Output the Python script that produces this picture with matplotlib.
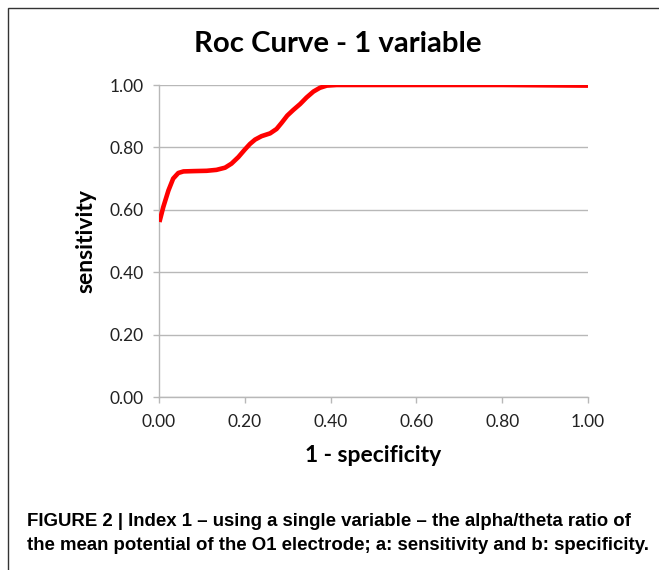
import matplotlib
matplotlib.use("Agg")
import matplotlib.pyplot as plt
from matplotlib.patches import Rectangle

# ROC curve points
fpr = [0.001, 0.010, 0.022, 0.033, 0.045, 0.057, 0.080, 0.111, 0.134, 0.154,
       0.169, 0.185, 0.200, 0.212, 0.224, 0.239, 0.259, 0.274, 0.286, 0.299,
       0.313, 0.329, 0.344, 0.360, 0.375, 0.391, 0.414, 0.438, 0.600, 0.800,
       1.000]
tpr = [0.561, 0.609, 0.662, 0.700, 0.718, 0.723, 0.724, 0.725, 0.728, 0.735,
       0.748, 0.769, 0.793, 0.811, 0.825, 0.836, 0.845, 0.859, 0.879, 0.902,
       0.920, 0.939, 0.960, 0.979, 0.991, 0.998, 1.000, 1.000, 1.000, 1.000,
       0.998]
ticks = [0.0, 0.2, 0.4, 0.6, 0.8, 1.0]

CHART_FONT = ['Lato', 'DejaVu Sans']
CAP_FONT = ['Liberation Sans Narrow', 'Liberation Sans', 'DejaVu Sans']
GRID = '#b8b8b8'

W, H = 659, 570
fig = plt.figure(figsize=(W / 100, H / 100), dpi=100)

# outer frame (cropped at right and bottom)
fig.patches.append(Rectangle((8 / W, -0.1), 1.0, (H - 8) / H + 0.1,
                             transform=fig.transFigure, fill=False,
                             edgecolor='#333333', linewidth=1.0))

ax = fig.add_axes([159 / W, 1 - 397 / H, (588 - 159) / W, (397 - 85) / H])
ax.plot(fpr, tpr, color='#ff0000', linewidth=3.3, solid_capstyle='butt',
        solid_joinstyle='round', zorder=3)

ax.set_xlim(0, 1)
ax.set_ylim(0, 1)
ax.set_xticks(ticks)
ax.set_yticks(ticks)
ax.set_xticklabels([f'{t:.2f}' for t in ticks], family=CHART_FONT, fontsize=12.5, color='#222222')
ax.set_yticklabels([f'{t:.2f}' for t in ticks], family=CHART_FONT, fontsize=12.5, color='#222222')
ax.yaxis.grid(True, color=GRID, linewidth=1.0)
ax.set_axisbelow(True)
for s in ('top', 'right'):
    ax.spines[s].set_visible(False)
for s in ('left', 'bottom'):
    ax.spines[s].set_color(GRID)
    ax.spines[s].set_linewidth(1.0)
ax.tick_params(axis='both', direction='out', length=4.3, width=1.0, color=GRID)
ax.tick_params(axis='x', pad=8)
ax.tick_params(axis='y', pad=7)

ax.set_xlabel('1 - specificity', family=CHART_FONT, fontsize=16.5, fontweight='bold', labelpad=11)
ax.set_ylabel('sensitivity', family=CHART_FONT, fontsize=16.5, fontweight='bold', labelpad=9)

fig.text(338 / W, 1 - 44 / H, 'Roc Curve - 1 variable', family=CHART_FONT,
         fontsize=21.2, fontweight='bold', ha='center', va='center')

fig.text(27 / W, 1 - 522 / H,
         'FIGURE 2 | Index 1 \u2013 using a single variable \u2013 the alpha/theta ratio of',
         family=CAP_FONT, fontsize=13.4, fontweight='bold', ha='left', va='center')
fig.text(27 / W, 1 - 546 / H,
         'the mean potential of the O1 electrode; a: sensitivity and b: specificity.',
         family=CAP_FONT, fontsize=13.4, fontweight='bold', ha='left', va='center')

fig.savefig('out.png', dpi=100)
